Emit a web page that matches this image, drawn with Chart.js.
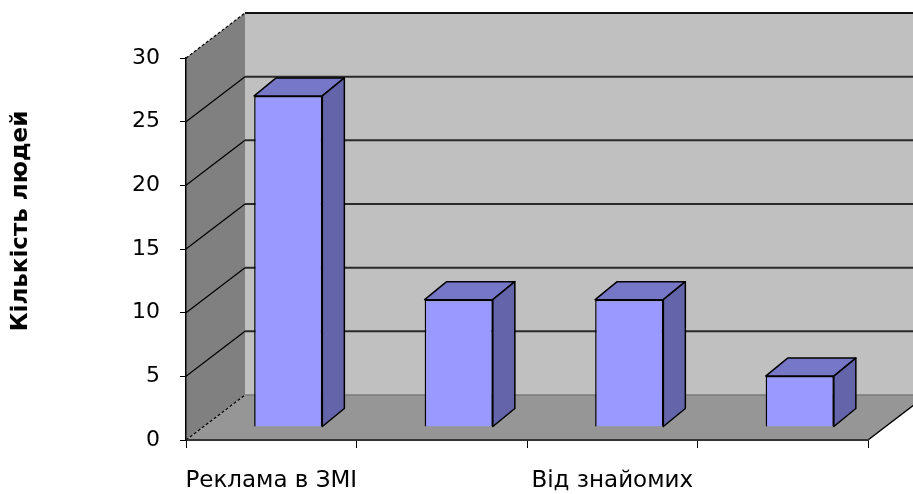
<!DOCTYPE html>
<html>
<head>
<meta charset="utf-8">
<script src="https://cdn.jsdelivr.net/npm/chart.js@4/dist/chart.umd.min.js"></script>
<style>
html,body{margin:0;padding:0;background:#fff;}
#wrap{width:913px;height:494px;}
</style>
</head>
<body>
<div id="wrap"><canvas id="c" width="913" height="494"></canvas></div>
<script>
// ---- data ----
const categories = ['Реклама в ЗМІ', '', 'Від знайомих', ''];
const values = [26, 10, 10, 4];
const yTicks = [0, 5, 10, 15, 20, 25, 30];
const yTitle = 'Кількість людей';

// ---- 3D look (styling) ----
const DEPTH_X = 59, DEPTH_Y = 45;       // floor / wall depth
const BAR_OFF_X = 17, BAR_OFF_Y = 13;   // bar front plane offset
const BAR_D_X = 22, BAR_D_Y = 18;       // bar depth
const FONT = '"DejaVu Sans", Arial, sans-serif';

const threeD = {
  id: 'threeD',
  beforeDraw(chart) {
    const ctx = chart.ctx, a = chart.chartArea, y = chart.scales.y;
    const W = chart.width;
    const yTop = y.getPixelForValue(yTicks[yTicks.length - 1]);
    const y0 = y.getPixelForValue(0);
    ctx.save();
    // back wall
    ctx.fillStyle = '#C0C0C0';
    ctx.fillRect(a.left + DEPTH_X, yTop - DEPTH_Y, W - a.left - DEPTH_X, y0 - yTop);
    // side wall
    ctx.fillStyle = '#808080';
    ctx.beginPath();
    ctx.moveTo(a.left, yTop);
    ctx.lineTo(a.left + DEPTH_X, yTop - DEPTH_Y);
    ctx.lineTo(a.left + DEPTH_X, y0 - DEPTH_Y);
    ctx.lineTo(a.left, y0);
    ctx.closePath();
    ctx.fill();
    // floor
    ctx.fillStyle = '#969696';
    ctx.beginPath();
    ctx.moveTo(a.left, y0);
    ctx.lineTo(a.right, y0);
    ctx.lineTo(a.right + DEPTH_X, y0 - DEPTH_Y);
    ctx.lineTo(a.left + DEPTH_X, y0 - DEPTH_Y);
    ctx.closePath();
    ctx.fill();
    // gridlines
    yTicks.forEach(v => {
      const py = y.getPixelForValue(v);
      const isTop = v === yTicks[yTicks.length - 1];
      if (v > 0) {
        ctx.strokeStyle = '#000';
        ctx.lineWidth = 1.2;
        ctx.setLineDash(isTop ? [3, 2] : []);
        ctx.beginPath();
        ctx.moveTo(a.left, py);
        ctx.lineTo(a.left + DEPTH_X, py - DEPTH_Y);
        ctx.stroke();
        ctx.setLineDash([]);
        ctx.strokeStyle = isTop ? '#111' : '#2a2a2a';
        ctx.lineWidth = 2;
        ctx.beginPath();
        ctx.moveTo(a.left + DEPTH_X, py - DEPTH_Y);
        ctx.lineTo(W, py - DEPTH_Y);
        ctx.stroke();
      } else {
        ctx.strokeStyle = '#7a7a7a';
        ctx.lineWidth = 1.5;
        ctx.beginPath();
        ctx.moveTo(a.left + DEPTH_X, py - DEPTH_Y);
        ctx.lineTo(W, py - DEPTH_Y);
        ctx.stroke();
        ctx.strokeStyle = '#000';
        ctx.lineWidth = 1.2;
        ctx.setLineDash([3, 2]);
        ctx.beginPath();
        ctx.moveTo(a.left, py);
        ctx.lineTo(a.left + DEPTH_X, py - DEPTH_Y);
        ctx.stroke();
        ctx.setLineDash([]);
      }
    });
    // floor right edge
    ctx.strokeStyle = '#000';
    ctx.lineWidth = 1.5;
    ctx.beginPath();
    ctx.moveTo(a.right, y0);
    ctx.lineTo(a.right + DEPTH_X, y0 - DEPTH_Y);
    ctx.stroke();
    ctx.restore();
  },
  beforeDatasetsDraw(chart) {
    chart.ctx.save();
    chart.ctx.translate(BAR_OFF_X, -BAR_OFF_Y);
  },
  afterDatasetsDraw(chart) {
    const ctx = chart.ctx;
    const meta = chart.getDatasetMeta(0);
    meta.data.forEach(bar => {
      const p = bar.getProps(['x', 'y', 'base', 'width'], true);
      const l = p.x - p.width / 2, r = p.x + p.width / 2, t = p.y, b = p.base;
      ctx.lineWidth = 1.5;
      ctx.strokeStyle = '#000';
      ctx.lineJoin = 'round';
      // top
      ctx.fillStyle = '#7777C8';
      ctx.beginPath();
      ctx.moveTo(l, t); ctx.lineTo(l + BAR_D_X, t - BAR_D_Y);
      ctx.lineTo(r + BAR_D_X, t - BAR_D_Y); ctx.lineTo(r, t); ctx.closePath();
      ctx.fill(); ctx.stroke();
      // side
      ctx.fillStyle = '#6464AA';
      ctx.beginPath();
      ctx.moveTo(r, t); ctx.lineTo(r + BAR_D_X, t - BAR_D_Y);
      ctx.lineTo(r + BAR_D_X, b - BAR_D_Y); ctx.lineTo(r, b); ctx.closePath();
      ctx.fill(); ctx.stroke();
    });
    ctx.restore();
  },
  afterDraw(chart) {
    const ctx = chart.ctx, a = chart.chartArea;
    ctx.save();
    ctx.translate(21, (a.top + a.bottom) / 2 - 28);
    ctx.rotate(-Math.PI / 2);
    ctx.fillStyle = '#000';
    ctx.font = 'bold 23px ' + FONT;
    ctx.textAlign = 'center';
    ctx.textBaseline = 'middle';
    ctx.fillText(yTitle, 0, 0);
    ctx.restore();
  }
};

new Chart(document.getElementById('c'), {
  type: 'bar',
  data: {
    labels: categories,
    datasets: [{
      data: values,
      backgroundColor: '#9999FF',
      borderColor: '#000',
      borderWidth: 1.5,
      barPercentage: 0.4,
      categoryPercentage: 1.0
    }]
  },
  options: {
    responsive: false,
    animation: false,
    events: [],
    layout: { padding: { top: 58, right: 45, left: 0, bottom: 0 } },
    plugins: { legend: { display: false }, tooltip: { enabled: false } },
    scales: {
      x: {
        grid: { drawOnChartArea: false, drawTicks: true, tickLength: 8, color: '#000', offset: true },
        border: { display: true, color: '#333', width: 2 },
        ticks: { color: '#000', font: { family: FONT, size: 23 }, padding: 19, autoSkip: false, maxRotation: 0 },
        afterFit: s => { s.height = 54; }
      },
      y: {
        min: 0, max: 30,
        afterBuildTicks: s => { s.ticks = yTicks.map(v => ({ value: v })); },
        grid: { drawOnChartArea: false, drawTicks: true, tickLength: 6, color: '#000' },
        border: { display: true, color: '#000', width: 1.5 },
        ticks: { color: '#000', font: { family: FONT, size: 22 }, padding: 20 },
        afterFit: s => { s.width = 186; }
      }
    }
  },
  plugins: [threeD]
});
</script>
</body>
</html>
